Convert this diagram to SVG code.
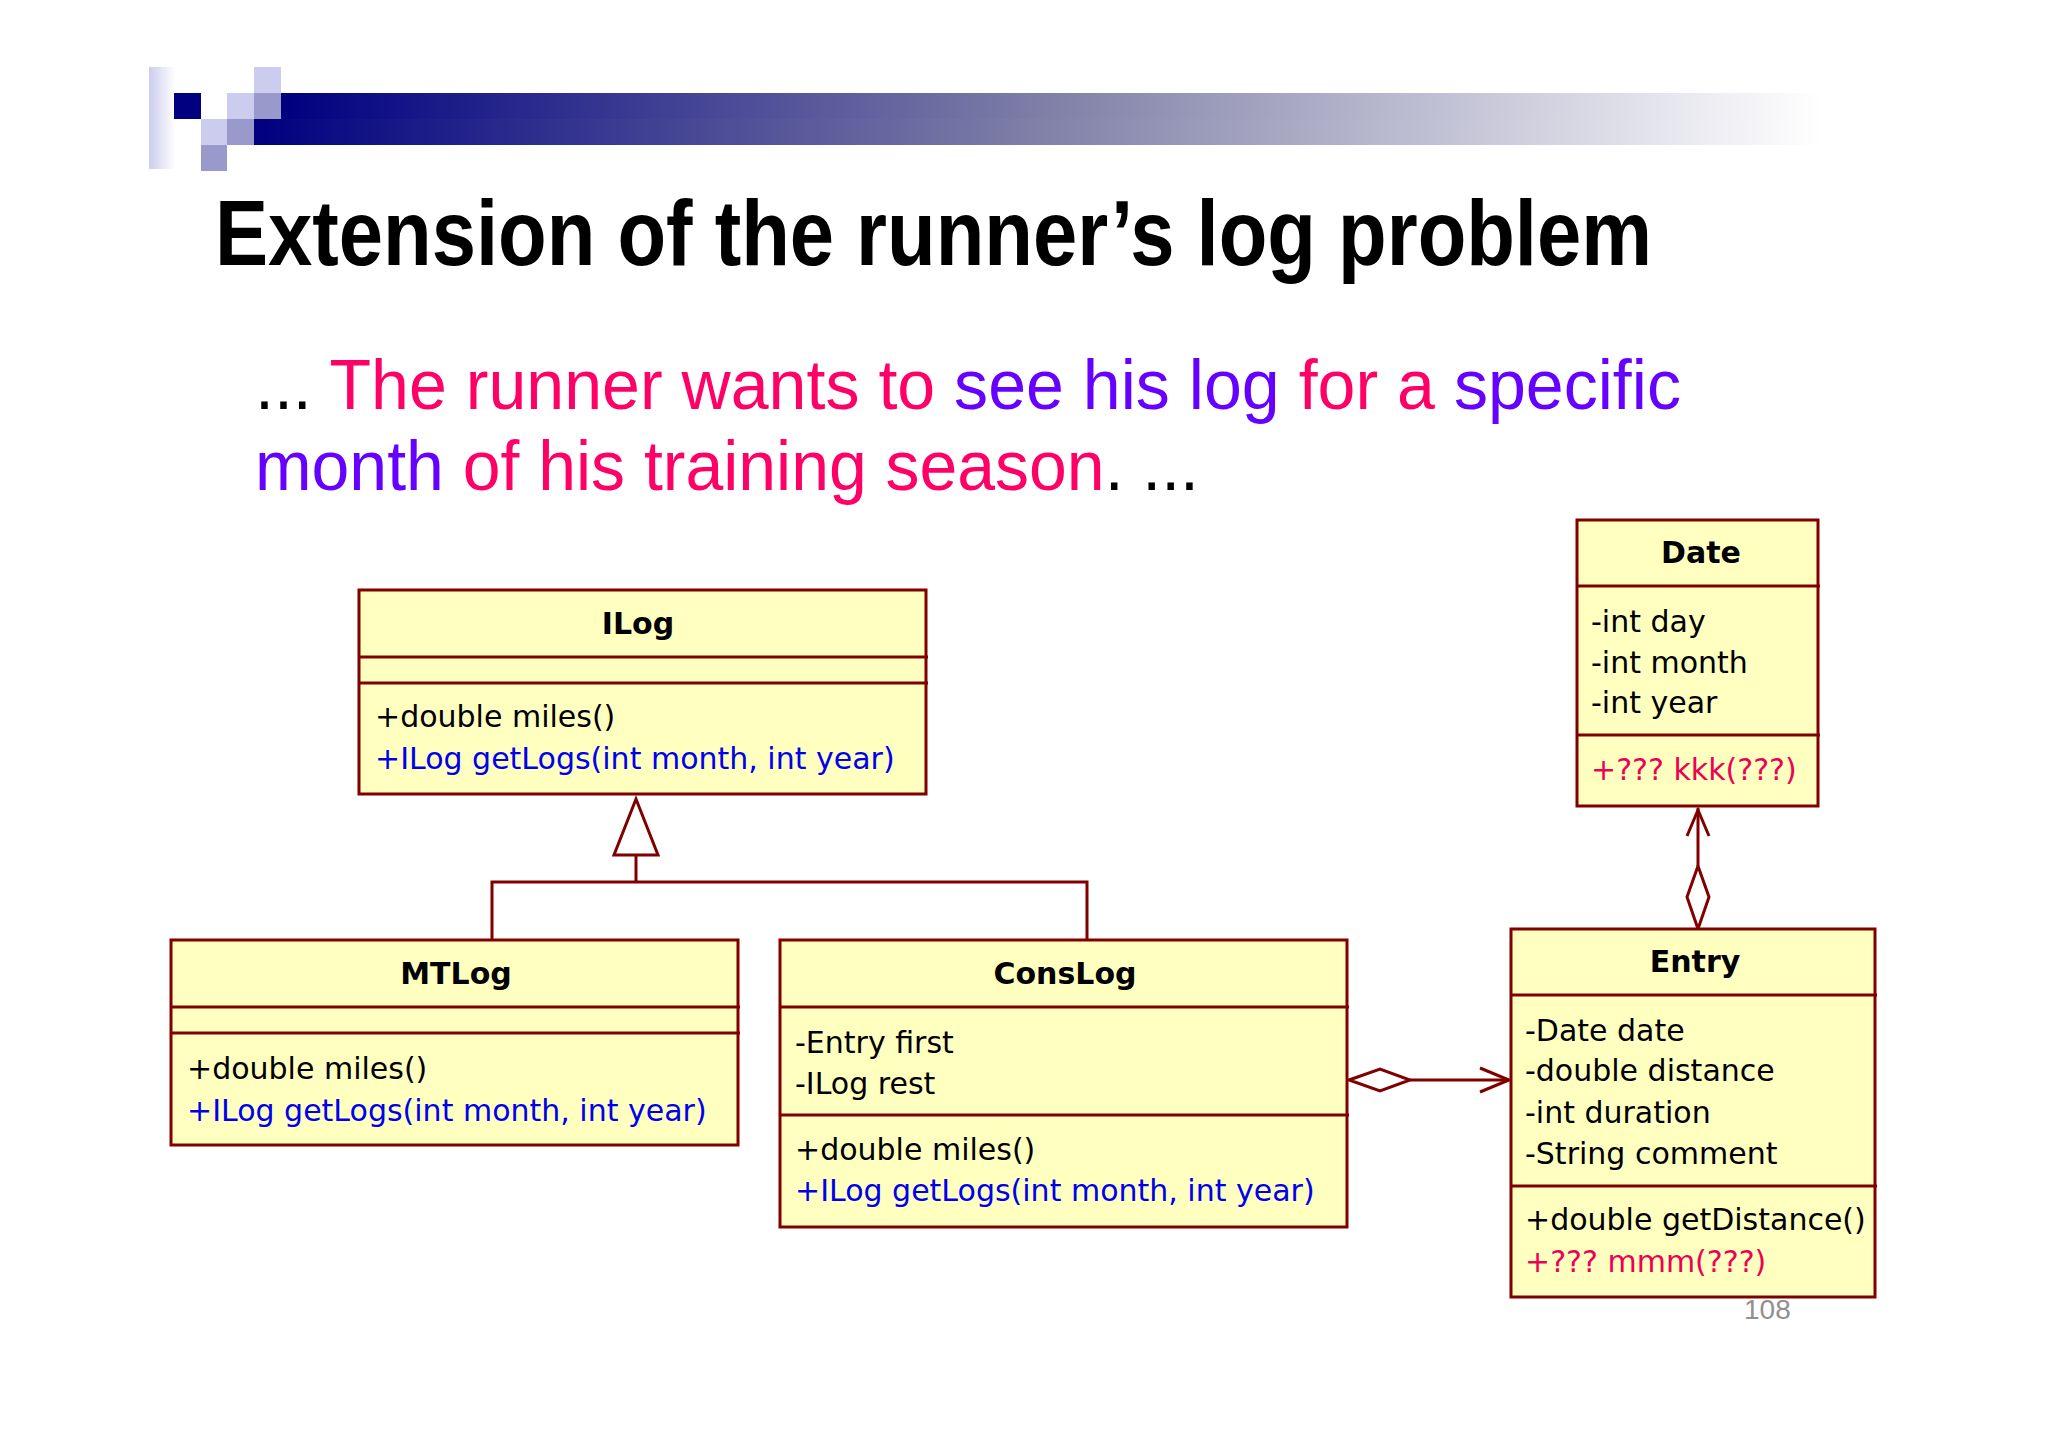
<svg xmlns="http://www.w3.org/2000/svg" width="2048" height="1447" viewBox="0 0 2048 1447">
<defs>
<linearGradient id="bar" x1="0" x2="1" y1="0" y2="0"><stop offset="0" stop-color="#000080"/><stop offset="0.5" stop-color="#8080a8"/><stop offset="1" stop-color="#ffffff"/></linearGradient>
<linearGradient id="col" x1="0" x2="1"><stop offset="0" stop-color="#ccccee"/><stop offset="1" stop-color="#ffffff"/></linearGradient>
<style>
.box{fill:#ffffc0;stroke:#800000;stroke-width:3}
.ln{stroke:#800000;stroke-width:3;fill:none}
.t{font-family:"DejaVu Sans",Verdana,sans-serif;font-size:30px;fill:#000}
.b{font-weight:bold;text-anchor:middle}
.bl{fill:#0000ee}
.pk{fill:#ee0055}
</style>
</defs>
<rect width="2048" height="1447" fill="#fff"/>
<g id="header">
<rect x="281" y="93" width="1540" height="26" fill="url(#bar)"/>
<rect x="254" y="119" width="1567" height="26" fill="url(#bar)"/>
<rect x="149" y="67" width="26" height="102" fill="url(#col)"/>
<rect x="174" y="93" width="27" height="26" fill="#000080"/>
<rect x="201" y="119" width="26" height="26" fill="#ccccee"/>
<rect x="201" y="145" width="26" height="26" fill="#9999cc"/>
<rect x="227" y="93" width="27" height="26" fill="#ccccee"/>
<rect x="227" y="119" width="27" height="26" fill="#9999cc"/>
<rect x="254" y="67" width="27" height="26" fill="#ccccee"/>
<rect x="254" y="93" width="27" height="26" fill="#9999cc"/>
</g>
<text x="215" y="265" font-family="Liberation Sans,Arial,sans-serif" font-weight="bold" font-size="92" textLength="1437" lengthAdjust="spacingAndGlyphs">Extension of the runner’s log problem</text>
<text x="255" y="409" font-family="Liberation Sans,Arial,sans-serif" font-size="70" textLength="1426" lengthAdjust="spacingAndGlyphs"><tspan fill="#000">... </tspan><tspan fill="#ff0066">The runner wants to </tspan><tspan fill="#6600ff">see his log </tspan><tspan fill="#ff0066">for a </tspan><tspan fill="#6600ff">specific</tspan></text>
<text x="255" y="490" font-family="Liberation Sans,Arial,sans-serif" font-size="70" textLength="944" lengthAdjust="spacingAndGlyphs"><tspan fill="#6600ff">month </tspan><tspan fill="#ff0066">of his training season</tspan><tspan fill="#000">. ...</tspan></text>

<g id="connectors">
<polyline class="ln" points="636,855 636,882"/>
<polyline class="ln" points="492,940 492,882 1087,882 1087,940"/>
<polygon points="636,799 614,855 658,855" fill="#fff" stroke="#800000" stroke-width="3"/>
<line class="ln" x1="1698" y1="808" x2="1698" y2="866"/>
<polyline class="ln" points="1687,836 1698,810 1709,836"/>
<polygon points="1698,866 1709,897 1698,929 1687,897" fill="#fff" stroke="#800000" stroke-width="3"/>
<line class="ln" x1="1410" y1="1080" x2="1509" y2="1080"/>
<polyline class="ln" points="1480,1068 1509,1080 1480,1092"/>
<polygon points="1349,1080 1380,1069 1410,1080 1380,1091" fill="#fff" stroke="#800000" stroke-width="3"/>
</g>

<g id="ILog">
<rect class="box" x="359" y="590" width="567" height="204"/>
<line class="ln" x1="359" y1="657" x2="928" y2="657"/><line class="ln" x1="359" y1="683" x2="928" y2="683"/>
<text class="t b" x="638" y="634">ILog</text>
<text class="t" x="375" y="727">+double miles()</text>
<text class="t bl" x="375" y="769">+ILog getLogs(int month, int year)</text>
</g>
<g id="MTLog">
<rect class="box" x="171" y="940" width="567" height="205"/>
<line class="ln" x1="171" y1="1007" x2="740" y2="1007"/><line class="ln" x1="171" y1="1033" x2="740" y2="1033"/>
<text class="t b" x="456" y="984">MTLog</text>
<text class="t" x="187" y="1079">+double miles()</text>
<text class="t bl" x="187" y="1121">+ILog getLogs(int month, int year)</text>
</g>
<g id="ConsLog">
<rect class="box" x="780" y="940" width="567" height="287"/>
<line class="ln" x1="780" y1="1007" x2="1349" y2="1007"/><line class="ln" x1="780" y1="1115" x2="1349" y2="1115"/>
<text class="t b" x="1065" y="984">ConsLog</text>
<text class="t" x="795" y="1053">-Entry first</text>
<text class="t" x="795" y="1094">-ILog rest</text>
<text class="t" x="795" y="1160">+double miles()</text>
<text class="t bl" x="795" y="1201">+ILog getLogs(int month, int year)</text>
</g>
<g id="Date">
<rect class="box" x="1577" y="520" width="241" height="286"/>
<line class="ln" x1="1577" y1="586" x2="1820" y2="586"/><line class="ln" x1="1577" y1="735" x2="1820" y2="735"/>
<text class="t b" x="1701" y="563">Date</text>
<text class="t" x="1591" y="632">-int day</text>
<text class="t" x="1591" y="673">-int month</text>
<text class="t" x="1591" y="713">-int year</text>
<text class="t pk" x="1591" y="780">+??? kkk(???)</text>
</g>
<g id="Entry">
<rect class="box" x="1511" y="929" width="364" height="368"/>
<line class="ln" x1="1511" y1="995" x2="1877" y2="995"/><line class="ln" x1="1511" y1="1186" x2="1877" y2="1186"/>
<text class="t b" x="1695" y="972">Entry</text>
<text class="t" x="1525" y="1041">-Date date</text>
<text class="t" x="1525" y="1081">-double distance</text>
<text class="t" x="1525" y="1123">-int duration</text>
<text class="t" x="1525" y="1164">-String comment</text>
<text class="t" x="1525" y="1230">+double getDistance()</text>
<text class="t pk" x="1525" y="1272">+??? mmm(???)</text>
</g>
<text x="1744" y="1319" font-family="Liberation Sans,Arial,sans-serif" font-size="28" fill="#909090">108</text>
</svg>
